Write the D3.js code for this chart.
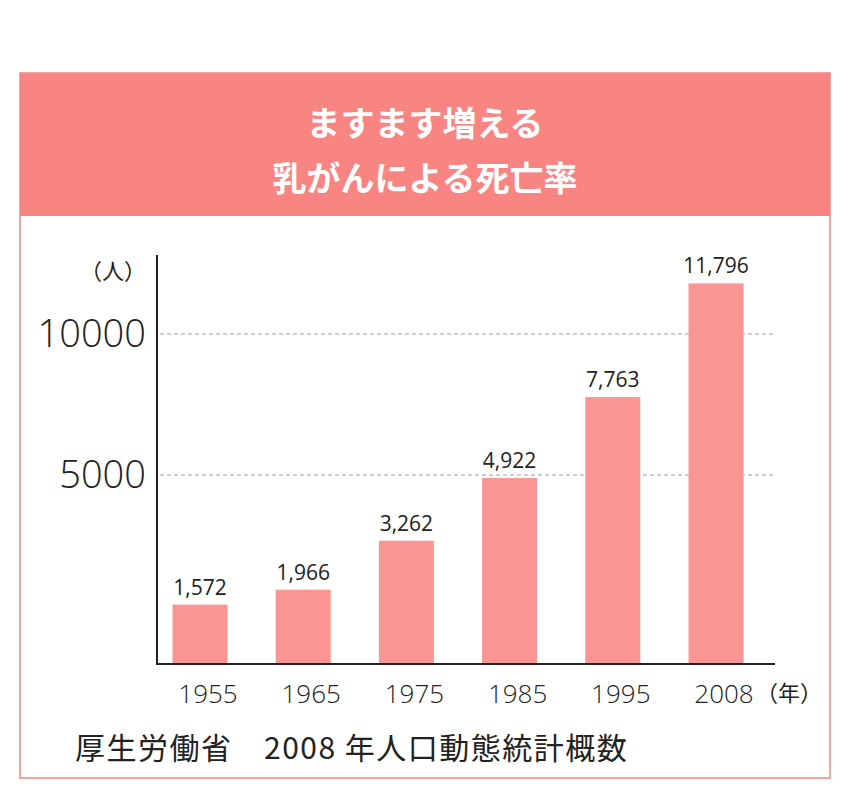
<!DOCTYPE html>
<html><head><meta charset="utf-8">
<script src="https://cdn.jsdelivr.net/npm/d3@7"></script>
<style>body{margin:0;background:#fff}</style>
</head><body>
<script>
var years = ["1955", "1965", "1975", "1985", "1995", "2008"];
var deaths = [1572, 1966, 3262, 4922, 7763, 11796];
var ticks = [5000, 10000];
var titleLines = ["ますます増える", "乳がんによる死亡率"];

var w = 841, h = 790;
var svg = d3.select("body").append("svg").attr("width", w).attr("height", h);
var font = "'Noto Sans CJK JP', 'Noto Sans', sans-serif";

svg.append("rect").attr("x", 20).attr("y", 73).attr("width", 810).attr("height", 705)
   .attr("fill", "#fff").attr("stroke", "#f5a3a1").attr("stroke-width", 2);
svg.append("rect").attr("x", 20).attr("y", 73).attr("width", 810).attr("height", 143)
   .attr("fill", "#f98583");
svg.selectAll("text.title").data(titleLines).enter().append("text")
   .attr("x", 425).attr("y", function(d, i) { return 136 + i * 55; })
   .attr("text-anchor", "middle").attr("fill", "#fff")
   .attr("font-family", font).attr("font-weight", "bold").attr("font-size", 34)
   .text(function(d) { return d; });

var xScale = d3.scalePoint().domain(years).range([200, 716]);
var yScale = d3.scaleLinear().domain([0, 5000, 10000]).range([664, 475, 334]);
var barW = 55;

// grid
svg.selectAll("line.grid").data(ticks).enter().append("line")
   .attr("x1", 160).attr("x2", 775)
   .attr("y1", function(d) { return yScale(d); }).attr("y2", function(d) { return yScale(d); })
   .attr("stroke", "#999").attr("stroke-dasharray", "4,3");
svg.selectAll("text.tick").data(ticks).enter().append("text")
   .attr("x", 146).attr("y", function(d) { return yScale(d) + 13; })
   .attr("text-anchor", "end").attr("font-family", "'Open Sans', sans-serif")
   .attr("font-weight", 300).attr("font-size", 38).attr("fill", "#222")
   .text(function(d) { return d; });

// bars
svg.selectAll("rect.bar").data(deaths).enter().append("rect")
   .attr("x", function(d, i) { return xScale(years[i]) - barW / 2; })
   .attr("y", function(d) { return yScale(d); })
   .attr("width", barW)
   .attr("height", function(d) { return 664 - yScale(d); })
   .attr("fill", "#fb9593");
svg.selectAll("text.val").data(deaths).enter().append("text")
   .attr("x", function(d, i) { return xScale(years[i]); })
   .attr("y", function(d) { return yScale(d) - 10; })
   .attr("text-anchor", "middle").attr("font-family", "'Open Sans', sans-serif")
   .attr("font-size", 21).attr("fill", "#222")
   .text(function(d) { return d3.format(",")(d); });

// axes
svg.append("line").attr("x1", 157).attr("x2", 157).attr("y1", 255).attr("y2", 665)
   .attr("stroke", "#222").attr("stroke-width", 2);
svg.append("line").attr("x1", 156).attr("x2", 775).attr("y1", 664).attr("y2", 664)
   .attr("stroke", "#222").attr("stroke-width", 2);
svg.selectAll("text.year").data(years).enter().append("text")
   .attr("x", function(d) { return xScale(d) + 8; }).attr("y", 703)
   .attr("text-anchor", "middle").attr("font-family", "'Open Sans', sans-serif")
   .attr("font-weight", 300).attr("font-size", 26).attr("fill", "#222")
   .text(function(d) { return d; });
svg.append("text").attr("x", 756).attr("y", 701).attr("font-family", font)
   .attr("font-size", 22).attr("fill", "#222").text("（年）");
svg.append("text").attr("x", 80).attr("y", 279).attr("font-family", font)
   .attr("font-size", 22).attr("fill", "#222").text("（人）");
svg.append("text").attr("x", 75).attr("y", 759).attr("font-family", font)
   .attr("font-size", 30).attr("letter-spacing", 1.5).attr("fill", "#222")
   .text("厚生労働省　2008 年人口動態統計概数");
</script>
</body></html>
